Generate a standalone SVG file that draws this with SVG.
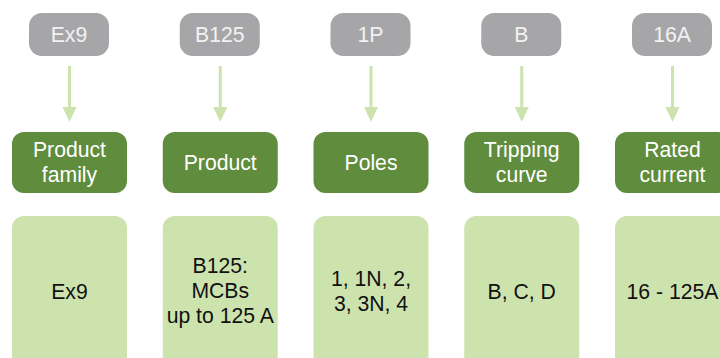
<svg xmlns="http://www.w3.org/2000/svg" width="720" height="358" viewBox="0 0 720 358">
<style>
text{font-family:"Liberation Sans",Arial,sans-serif;font-size:21.2px;text-anchor:middle}
.code rect{fill:#a6a6a8}
.code text{fill:#f2f2f2}
.head rect{fill:#5f8c3d}
.head text{fill:#ffffff}
.val rect{fill:#cde3ae}
.val text{fill:#111111}
.conn line{stroke:#cde3ae;stroke-width:3}
.conn polygon{fill:#cde3ae}
</style>
<defs/>
<g id="code-ex9" class="code"><rect x="29" y="13" width="80" height="43" rx="13"/><text x="69" y="42">Ex9</text></g>
<g id="code-b125" class="code"><rect x="179.75" y="13" width="80" height="43" rx="13"/><text x="219.75" y="42">B125</text></g>
<g id="code-1p" class="code"><rect x="330.5" y="13" width="80" height="43" rx="13"/><text x="370.5" y="42">1P</text></g>
<g id="code-b" class="code"><rect x="481.25" y="13" width="80" height="43" rx="13"/><text x="521.25" y="42">B</text></g>
<g id="code-16a" class="code"><rect x="632" y="13" width="80" height="43" rx="13"/><text x="672" y="42">16A</text></g>
<g id="connectors" class="conn">
<line x1="69.5" y1="66" x2="69.5" y2="108"/><polygon points="62.5,107 76.5,107 69.5,122"/>
<line x1="220.25" y1="66" x2="220.25" y2="108"/><polygon points="213.25,107 227.25,107 220.25,122"/>
<line x1="371" y1="66" x2="371" y2="108"/><polygon points="364,107 378,107 371,122"/>
<line x1="521.75" y1="66" x2="521.75" y2="108"/><polygon points="514.75,107 528.75,107 521.75,122"/>
<line x1="672.5" y1="66" x2="672.5" y2="108"/><polygon points="665.5,107 679.5,107 672.5,122"/>
</g>
<g id="head-family" class="head"><rect x="12" y="132" width="115" height="61" rx="12"/><text x="69.5" y="157">Product</text><text x="69.5" y="182">family</text></g>
<g id="head-product" class="head"><rect x="162.75" y="132" width="115" height="61" rx="12"/><text x="220.25" y="170">Product</text></g>
<g id="head-poles" class="head"><rect x="313.5" y="132" width="115" height="61" rx="12"/><text x="371" y="170">Poles</text></g>
<g id="head-curve" class="head"><rect x="464.25" y="132" width="115" height="61" rx="12"/><text x="521.75" y="157">Tripping</text><text x="521.75" y="182">curve</text></g>
<g id="head-current" class="head"><rect x="615" y="132" width="115" height="61" rx="12"/><text x="672.5" y="157">Rated</text><text x="672.5" y="182">current</text></g>
<g id="val-ex9" class="val"><rect x="12" y="216" width="115" height="152" rx="12"/><text x="69.5" y="299">Ex9</text></g>
<g id="val-b125" class="val"><rect x="162.75" y="216" width="115" height="152" rx="12"/><text x="220.25" y="273">B125:</text><text x="220.25" y="298">MCBs</text><text x="220.25" y="323">up to 125 A</text></g>
<g id="val-poles" class="val"><rect x="313.5" y="216" width="115" height="152" rx="12"/><text x="371" y="286">1, 1N, 2,</text><text x="371" y="311">3, 3N, 4</text></g>
<g id="val-curve" class="val"><rect x="464.25" y="216" width="115" height="152" rx="12"/><text x="521.75" y="299">B, C, D</text></g>
<g id="val-current" class="val"><rect x="615" y="216" width="115" height="152" rx="12"/><text x="672.5" y="299">16 - 125A</text></g>
</svg>
